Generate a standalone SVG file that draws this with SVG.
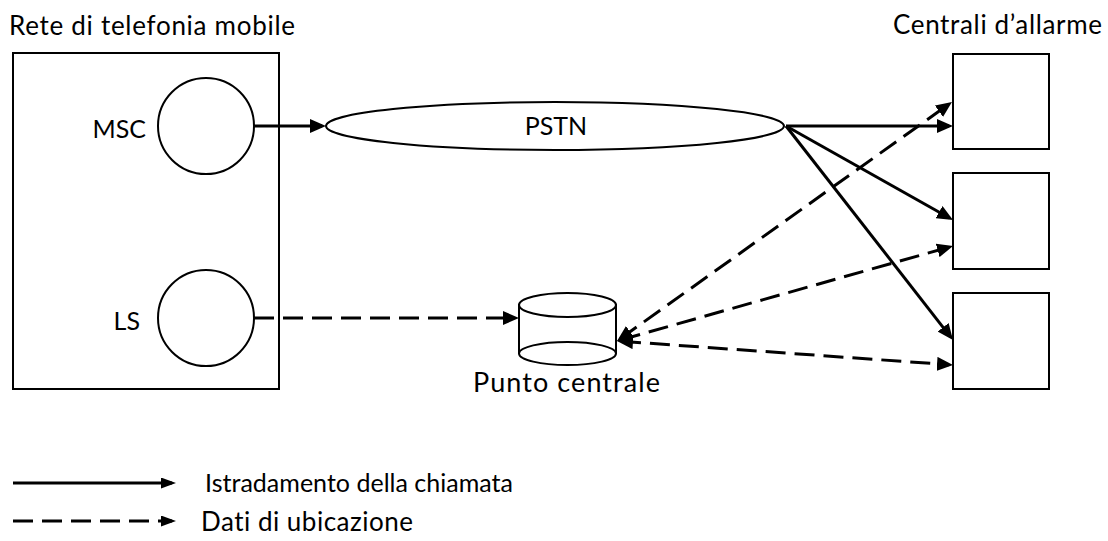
<svg xmlns="http://www.w3.org/2000/svg" width="1108" height="541" viewBox="0 0 1108 541">
  <style>
    .lbl { font-family: Lato, "Open Sans", sans-serif; fill: #000; font-variant-ligatures: none; }
    .shape { fill: #fff; stroke: #000; stroke-width: 2; }
    .call { fill: none; stroke: #000; stroke-width: 3; }
    .loc { fill: none; stroke: #000; stroke-width: 3; stroke-dasharray: 20 9; }
  </style>
  <defs>
    <marker id="head" markerUnits="userSpaceOnUse" markerWidth="16" markerHeight="14" refX="12" refY="7" orient="auto-start-reverse">
      <path d="M0,0 L16,7 L0,14 Z" fill="#000"/>
    </marker>
    <marker id="head-sm" markerUnits="userSpaceOnUse" markerWidth="15" markerHeight="11" refX="11" refY="5.5" orient="auto">
      <path d="M0,0 L15,5.5 L0,11 Z" fill="#000"/>
    </marker>
  </defs>

  <rect width="1108" height="541" fill="#fff"/>

  <!-- mobile network -->
  <g id="mobile-network">
    <rect class="shape" x="13" y="53" width="266" height="336"/>
    <text class="lbl" x="9" y="35" font-size="26" textLength="286" lengthAdjust="spacing">Rete di telefonia mobile</text>
  </g>
  <g id="msc">
    <circle class="shape" cx="206" cy="126" r="48"/>
    <text class="lbl" x="146" y="138" font-size="25" text-anchor="end">MSC</text>
  </g>
  <g id="ls">
    <circle class="shape" cx="206" cy="318" r="48"/>
    <text class="lbl" x="140" y="330" font-size="25" text-anchor="end">LS</text>
  </g>

  <!-- public network -->
  <g id="pstn">
    <ellipse class="shape" cx="555" cy="126" rx="229" ry="24"/>
    <text class="lbl" x="556" y="134.5" font-size="25" text-anchor="middle">PSTN</text>
  </g>

  <!-- central point (database) -->
  <g id="punto-centrale">
    <path class="shape" d="M519,305 L519,353.5 A48.5,11.5 0 0 0 616,353.5 L616,305 Z"/>
    <ellipse class="shape" cx="567.5" cy="305" rx="48.5" ry="12" fill="none"/>
    <path fill="none" stroke="#000" stroke-width="2" d="M519,353.5 A48.5,11.5 0 0 1 616,353.5"/>
    <text class="lbl" x="473" y="392" font-size="27" textLength="187" lengthAdjust="spacing">Punto centrale</text>
  </g>

  <!-- alarm centres -->
  <g id="centrali">
    <text class="lbl" x="893" y="34" font-size="26" textLength="209" lengthAdjust="spacing">Centrali d’allarme</text>
  </g>
  <g id="centrale-1"><rect class="shape" x="953" y="54" width="96" height="95"/></g>
  <g id="centrale-2"><rect class="shape" x="953" y="173" width="96" height="96"/></g>
  <g id="centrale-3"><rect class="shape" x="953" y="293" width="96" height="96"/></g>

  <!-- connectors -->
  <g id="connectors">
    <line class="call" x1="254" y1="126" x2="322" y2="126" marker-end="url(#head)"/>
    <line class="call" x1="786" y1="126" x2="949" y2="126" marker-end="url(#head)"/>
    <line class="call" x1="786" y1="126" x2="949.5" y2="218" marker-end="url(#head)"/>
    <line class="call" x1="786" y1="126" x2="950.5" y2="336.8" marker-end="url(#head)"/>

    <line class="loc" x1="254" y1="318" x2="515" y2="318" marker-end="url(#head)"/>
    <line class="loc" x1="620.3" y1="338.7" x2="948.7" y2="104.3" marker-start="url(#head)" marker-end="url(#head)"/>
    <line class="loc" x1="620.8" y1="339.9" x2="949.2" y2="247.1" marker-start="url(#head)" marker-end="url(#head)"/>
    <line class="loc" x1="621" y1="341.3" x2="949" y2="364.7" marker-start="url(#head)" marker-end="url(#head)"/>
  </g>

  <!-- legend -->
  <g id="legend">
    <line class="call" x1="13" y1="483" x2="172" y2="483" marker-end="url(#head-sm)"/>
    <text class="lbl" x="205" y="492" font-size="25" textLength="308" lengthAdjust="spacing">Istradamento della chiamata</text>
    <line class="loc" x1="13" y1="521" x2="172" y2="521" stroke-dasharray="18 7" marker-end="url(#head-sm)"/>
    <text class="lbl" x="201" y="531" font-size="26" textLength="212" lengthAdjust="spacing">Dati di ubicazione</text>
  </g>
</svg>
